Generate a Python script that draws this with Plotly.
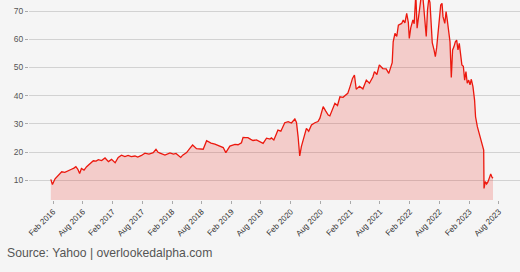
import plotly.graph_objects as go

dates = [
    "2016-01-18", "2016-01-28", "2016-02-13", "2016-02-25", "2016-03-13", "2016-03-25",
    "2016-04-13", "2016-05-03", "2016-05-24", "2016-06-08", "2016-06-20", "2016-07-02",
    "2016-07-13", "2016-07-24", "2016-08-09", "2016-08-25", "2016-09-15", "2016-10-05",
    "2016-10-22", "2016-11-05", "2016-11-25", "2016-12-16", "2017-01-06", "2017-01-25",
    "2017-02-16", "2017-03-07", "2017-03-27", "2017-04-17", "2017-05-07", "2017-05-26",
    "2017-06-18", "2017-07-05", "2017-07-28", "2017-08-18", "2017-09-12", "2017-10-08",
    "2017-10-25", "2017-11-07", "2017-11-19", "2017-12-19", "2018-01-19", "2018-02-09",
    "2018-02-25", "2018-03-26", "2018-04-07", "2018-05-01", "2018-05-21", "2018-06-07",
    "2018-07-01", "2018-07-21", "2018-08-11", "2018-09-01", "2018-09-13", "2018-09-28",
    "2018-10-22", "2018-11-21", "2018-12-12", "2018-12-28", "2019-01-10", "2019-01-22",
    "2019-02-22", "2019-03-13", "2019-04-03", "2019-04-13", "2019-04-30", "2019-05-13",
    "2019-05-30", "2019-06-13", "2019-07-04", "2019-07-25", "2019-08-14", "2019-09-04",
    "2019-09-25", "2019-10-04", "2019-10-19", "2019-11-04", "2019-11-13", "2019-12-01",
    "2019-12-15", "2019-12-25", "2020-01-15", "2020-02-04", "2020-02-25", "2020-03-06",
    "2020-03-16", "2020-03-26", "2020-04-05", "2020-04-21", "2020-05-06", "2020-05-20",
    "2020-06-06", "2020-06-27", "2020-07-16", "2020-07-28", "2020-08-07", "2020-08-17",
    "2020-09-01", "2020-09-17", "2020-09-27", "2020-10-12", "2020-10-28", "2020-11-13",
    "2020-11-28", "2020-12-17", "2020-12-29", "2021-01-15", "2021-01-29", "2021-02-13",
    "2021-02-25", "2021-03-04", "2021-03-08", "2021-03-28", "2021-04-18", "2021-05-09",
    "2021-05-28", "2021-06-18", "2021-06-28", "2021-07-13", "2021-07-28", "2021-08-18",
    "2021-09-08", "2021-09-24", "2021-10-06", "2021-10-15", "2021-10-21", "2021-11-01",
    "2021-11-12", "2021-11-22", "2021-12-12", "2021-12-22", "2022-01-01", "2022-01-12",
    "2022-01-22", "2022-01-28", "2022-02-06", "2022-02-19", "2022-02-27", "2022-03-03",
    "2022-03-09", "2022-03-17", "2022-03-29", "2022-04-13", "2022-04-23", "2022-05-03",
    "2022-05-12", "2022-05-20", "2022-05-28", "2022-06-04", "2022-06-10", "2022-06-18",
    "2022-06-29", "2022-07-07", "2022-07-15", "2022-07-23", "2022-08-01", "2022-08-09",
    "2022-08-17", "2022-08-23", "2022-09-03", "2022-09-11", "2022-09-19", "2022-09-27",
    "2022-10-05", "2022-10-13", "2022-10-21", "2022-10-29", "2022-11-07", "2022-11-15",
    "2022-11-23", "2022-12-01", "2022-12-09", "2022-12-17", "2022-12-26", "2023-01-03",
    "2023-01-11", "2023-01-19", "2023-01-28", "2023-02-05", "2023-02-13", "2023-02-23",
    "2023-03-05", "2023-03-11", "2023-03-22", "2023-03-30", "2023-04-07", "2023-04-19",
    "2023-04-30", "2023-05-02", "2023-05-10", "2023-05-18", "2023-05-26", "2023-06-06",
    "2023-06-12", "2023-06-20", "2023-06-26",
]

prices = [
    10.3, 8.5, 10.5, 11.2, 12.2, 13.0,
    12.8, 13.2, 13.9, 14.3, 14.8, 13.9,
    12.4, 14.2, 13.6, 14.8, 16.0, 16.9,
    16.8, 17.3, 17.0, 17.9, 16.6, 17.4,
    16.2, 18.1, 18.9, 18.4, 18.8, 18.4,
    18.6, 18.2, 18.8, 19.6, 19.3, 19.8,
    21.0, 19.9, 19.6, 18.9, 19.7, 19.3,
    19.5, 18.1, 18.9, 19.8, 21.3, 22.5,
    21.2, 21.1, 21.0, 24.0, 23.6, 23.2,
    22.8, 22.0, 21.6, 19.8, 21.2, 22.1,
    22.7, 22.6, 23.3, 25.2, 25.1, 25.1,
    24.5, 24.1, 24.3, 23.7, 23.1, 24.9,
    24.6, 25.0, 24.3, 26.5, 27.8, 27.4,
    29.0, 30.4, 30.8, 30.3, 31.7, 30.5,
    25.4, 18.6, 21.9, 25.5, 28.4, 27.4,
    29.6, 30.4, 30.8, 32.0, 33.7, 36.1,
    34.6, 33.1, 32.8, 35.0, 37.3, 36.5,
    39.6, 39.4, 40.0, 40.8, 43.2, 46.1,
    47.3, 44.4, 42.3, 43.3, 42.4, 45.5,
    44.4, 46.6, 48.5, 47.5, 50.9, 49.6,
    49.5, 47.9, 50.2, 51.7, 59.1, 62.1,
    61.0, 65.0, 65.6, 66.8, 65.8, 69.2,
    66.0, 60.3, 64.0, 66.8, 65.5, 73.3,
    76.0, 63.9, 70.4, 76.0, 74.0, 65.0,
    61.0, 70.4, 74.5, 73.0, 64.4, 58.8,
    56.2, 53.8, 57.0, 62.1, 65.6, 72.1,
    72.7, 68.0, 65.6, 69.8, 66.5, 62.1,
    59.1, 46.4, 56.2, 57.3, 59.1, 59.7,
    56.2, 58.5, 53.8, 50.9, 50.4, 45.5,
    48.5, 44.4, 45.5, 43.8, 45.8, 43.2,
    38.4, 32.5, 29.0, 27.3, 24.9, 22.5,
    20.7, 7.1, 9.5, 8.7, 9.4, 11.2,
    12.2, 11.1, 10.7,
]

tick_dates = [f"{y}-{m}-01" for y in range(2016, 2024) for m in ("02", "08")]
tick_labels = [f"{mon} {y}" for y in range(2016, 2024) for mon in ("Feb", "Aug")]
y_ticks = [10, 20, 30, 40, 50, 60, 70]
source_text = "Source: Yahoo | overlookedalpha.com"

fig = go.Figure()
fig.add_trace(go.Scatter(
    x=dates, y=prices, mode="lines",
    line=dict(color="rgb(236,24,14)", width=1.3),
    fill="tozeroy", fillcolor="rgba(236,40,30,0.2)",
    hoverinfo="skip", showlegend=False,
))

fig.update_layout(
    width=520, height=272,
    margin=dict(l=29, r=0, t=0, b=72),
    paper_bgcolor="#f5f5f5", plot_bgcolor="#f5f5f5",
    font=dict(family="Liberation Sans, Arial, sans-serif", color="#444"),
    xaxis=dict(
        range=["2015-09-06", "2023-12-09"],
        tickmode="array", tickvals=tick_dates, ticktext=tick_labels,
        tickangle=-45, tickfont=dict(size=8, color="#333"),
        ticks="outside", ticklen=3, tickcolor="#aaa",
        showgrid=False, zeroline=False, showline=False,
    ),
    yaxis=dict(
        range=[3.0, 73.9],
        tickmode="array", tickvals=y_ticks,
        tickfont=dict(size=8.5, color="#555"),
        ticks="outside", ticklen=3, tickcolor="#aaa",
        showgrid=True, gridcolor="#d2d2d2", gridwidth=1,
        zeroline=False, showline=False,
    ),
    annotations=[dict(
        text=source_text, xref="paper", yref="paper",
        x=-0.049, y=-0.2635, xanchor="left", yanchor="middle",
        showarrow=False, font=dict(size=12.2, color="#555"),
    )],
)

fig.write_html("out.html")
